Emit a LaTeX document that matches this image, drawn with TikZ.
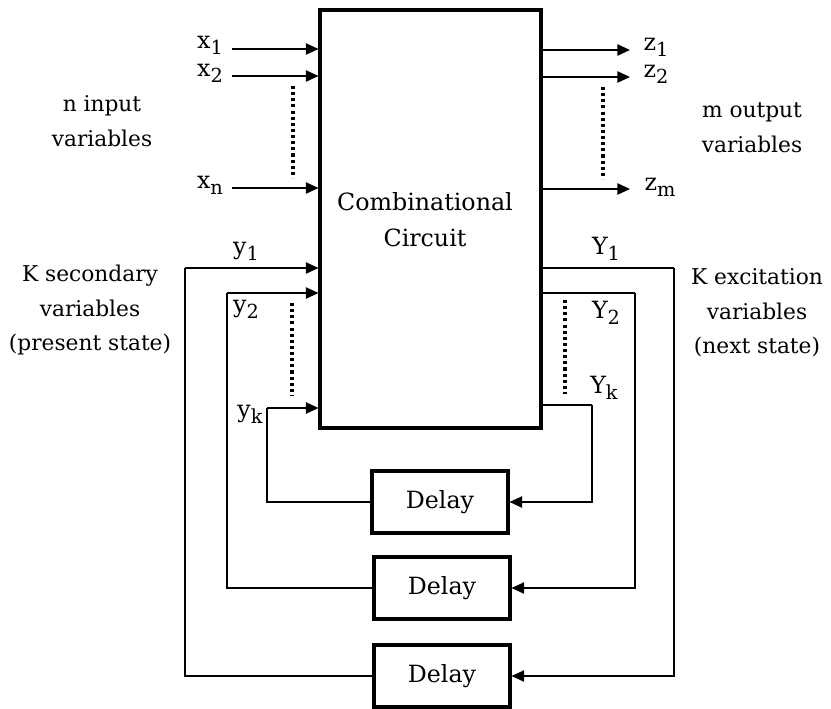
\documentclass[tikz,border=0pt]{standalone}
\usepackage{fontspec}
\setmainfont{DejaVu Serif}
\usetikzlibrary{arrows.meta}
% subscript set in text font
\newcommand{\lowidx}[1]{\raisebox{-0.5ex}{\fontsize{14.5pt}{14.5pt}\selectfont #1}}
\begin{document}
\begin{tikzpicture}[x=0.75pt,y=-0.75pt,
  every node/.style={font=\fontsize{17.8pt}{20pt}\selectfont, inner sep=0pt},
  mainbox/.style={draw, line width=2.3pt, minimum width=165.75pt, minimum height=313.5pt},
  delaybox/.style={draw, line width=2.3pt, minimum width=102pt, minimum height=46.5pt},
  wire/.style={line width=1.1pt},
  arr/.style={wire, -{Triangle[length=9.5pt,width=8.5pt]}},
  dots/.style={line width=2.3pt, dash pattern=on 2.3pt off 2.3pt},
  lbl/.style={align=center},
  sidelbl/.style={align=center, font=\fontsize{16.3pt}{19pt}\selectfont}]
\useasboundingbox (0,0) rectangle (831,708);

% combinational block and delay elements
\node[mainbox] (cc) at (430.5,219) {};
\node[lbl] (cctext) at (425,220) {Combinational\\[7pt]Circuit};
\node[delaybox] (d1) at (440,502) {Delay};
\node[delaybox] (d2) at (442,588) {Delay};
\node[delaybox] (d3) at (442,676) {Delay};

% primary inputs
\coordinate (x1s) at (232,49);
\coordinate (x2s) at (232,76);
\coordinate (xns) at (232,188);
\draw[arr] (x1s) -- (x1s -| cc.west);
\draw[arr] (x2s) -- (x2s -| cc.west);
\draw[arr] (xns) -- (xns -| cc.west);
\node (x1l) at (210,45) {x\lowidx{1}};
\node (x2l) at (210,73) {x\lowidx{2}};
\node (xnl) at (210,185) {x\lowidx{n}};
\coordinate (xdt) at (293,86);
\coordinate (xdb) at (293,178);
\draw[dots] (xdt) -- (xdb);
\node[sidelbl] (inlbl) at (102,121) {n input\\[7pt]variables};

% primary outputs
\coordinate (z1e) at (630,50);
\coordinate (z2e) at (630,77);
\coordinate (zme) at (630,189);
\draw[arr] (z1e -| cc.east) -- (z1e);
\draw[arr] (z2e -| cc.east) -- (z2e);
\draw[arr] (zme -| cc.east) -- (zme);
\node (z1l) at (656,47) {z\lowidx{1}};
\node (z2l) at (656,74) {z\lowidx{2}};
\node (zml) at (660,187) {z\lowidx{m}};
\coordinate (zdt) at (603,87);
\coordinate (zdb) at (603,179);
\draw[dots] (zdt) -- (zdb);
\node[sidelbl] (outlbl) at (752,128) {m output\\[7pt]variables};

% feedback loops through the delays
\coordinate (l1) at (185,268);
\coordinate (l2) at (227,293);
\coordinate (lk) at (267,408);
\coordinate (r1) at (674,268);
\coordinate (r2) at (635,293);
\coordinate (rk) at (592,405);
\draw[wire] (r1 -| cc.east) -- (r1);
\draw[arr] (r1) |- (d3.east);
\draw[wire] (r2 -| cc.east) -- (r2);
\draw[arr] (r2) |- (d2.east);
\draw[wire] (rk -| cc.east) -- (rk);
\draw[arr] (rk) |- (d1.east);
\draw[wire] (d3.west) -| (l1);
\draw[arr] (l1) -- (l1 -| cc.west);
\draw[wire] (d2.west) -| (l2);
\draw[arr] (l2) -- (l2 -| cc.west);
\draw[wire] (d1.west) -| (lk);
\draw[arr] (lk) -- (lk -| cc.west);

% state variable names
\node (y1l) at (246,251) {y\lowidx{1}};
\node (y2l) at (246,309) {y\lowidx{2}};
\node (ykl) at (250,414) {y\lowidx{k}};
\node (Y1l) at (606,249) {Y\lowidx{1}};
\node (Y2l) at (606,313) {Y\lowidx{2}};
\node (Ykl) at (604,388) {Y\lowidx{k}};
\coordinate (ydt) at (292,303);
\coordinate (ydb) at (292,396);
\draw[dots] (ydt) -- (ydb);
\coordinate (Ydt) at (565,300);
\coordinate (Ydb) at (565,394);
\draw[dots] (Ydt) -- (Ydb);
\node[sidelbl] (seclbl) at (90,310) {K secondary\\[7pt]variables\\[7pt](present state)};
\node[sidelbl] (exclbl) at (757,313) {K excitation\\[7pt]variables\\[7pt](next state)};
\end{tikzpicture}
\end{document}
